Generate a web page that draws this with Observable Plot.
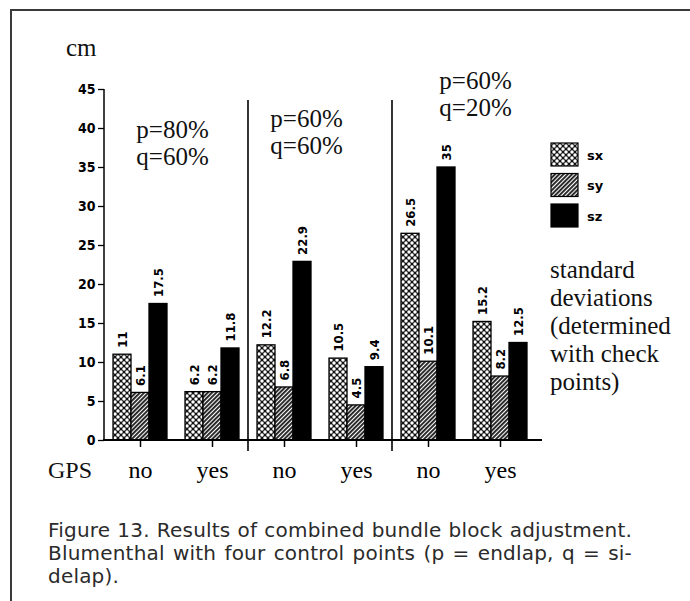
<!DOCTYPE html>
<html>
<head>
<meta charset="utf-8">
<script src="https://cdn.jsdelivr.net/npm/d3@7"></script>
<script src="https://cdn.jsdelivr.net/npm/@observablehq/plot@0.6"></script>
<style>
  html, body { margin: 0; padding: 0; background: #fff; overflow: hidden; }
  #page { position: relative; width: 690px; height: 601px; overflow: hidden; background: #fff; }
  #border { position: absolute; left: 10px; top: 9px; width: 720px; height: 640px;
            border-top: 2px solid #3a3a3a; border-left: 2px solid #3a3a3a; }
  #chart { position: absolute; left: 0; top: 0; }
  #caption { position: absolute; left: 48px; top: 519px; width: 584px;
             font-family: "DejaVu Sans", Verdana, sans-serif; font-size: 20px;
             letter-spacing: 0.2px; line-height: 23px; color: #2b2b2b; }
  #caption .j { text-align: justify; text-align-last: justify; }
</style>
</head>
<body>
<div id="page">
  <div id="border"></div>
  <div id="chart"></div>
  <div id="caption">
    <div class="j">Figure 13. Results of combined bundle block adjustment.</div>
    <div class="j">Blumenthal with four control points (p = endlap, q = si-</div>
    <div>delap).</div>
  </div>
</div>
<script>
// Six block configurations: GPS off / on, for three overlap settings
const groupKeys = ["g1", "g2", "g3", "g4", "g5", "g6"];
const gpsLabels = ["no", "yes", "no", "yes", "no", "yes"];
const overlapLabels = ["p=80%\nq=60%", "p=60%\nq=60%", "p=60%\nq=20%"];
const seriesNames = ["sx", "sy", "sz"];

// Standard deviations in cm
const sxValues = [11, 6.2, 12.2, 10.5, 26.5, 15.2];
const syValues = [6.1, 6.2, 6.8, 4.5, 10.1, 8.2];
const szValues = [17.5, 11.8, 22.9, 9.4, 35, 12.5];

const yTickValues = [0, 5, 10, 15, 20, 25, 30, 35, 40, 45];
const noteLines = ["standard", "deviations", "(determined", "with check", "points)"];

const seriesValues = [sxValues, syValues, szValues];
const rows = groupKeys.flatMap((g, i) =>
  seriesNames.map((s, j) => ({ group: g, series: s, value: seriesValues[j][i] }))
);
const annotations = overlapLabels.map((t, k) => ({ group: groupKeys[2 * k], text: t }));

// Placement of the overlap notes inside their facet
const notePlacement = [
  { dx: 68, dy: 29 },
  { dx: 58, dy: 18 },
  { dx: 83, dy: -20 }
];

const serif = "Liberation Serif, Times New Roman, serif";

const chart = Plot.plot({
  width: 690,
  height: 490,
  marginLeft: 103,
  marginRight: 154,
  marginTop: 89,
  marginBottom: 50,
  style: { background: "transparent", overflow: "visible" },
  fx: { domain: groupKeys, padding: 0, label: null },
  x: { domain: seriesNames, paddingInner: 0, paddingOuter: 0.46, axis: null },
  y: { domain: [0, 45], axis: null },
  color: { domain: seriesNames, range: ["url(#pat-sx)", "url(#pat-sy)", "#000"] },
  marks: [
    Plot.barY(rows, {
      fx: "group", x: "series", y: "value", fill: "series",
      stroke: "#000", strokeWidth: 1.3
    }),
    Plot.text(rows, {
      fx: "group", x: "series", y: "value", text: d => String(d.value),
      rotate: -90, textAnchor: "start", lineAnchor: "middle", dy: -7,
      fontFamily: "DejaVu Sans Condensed, DejaVu Sans", fontWeight: "bold", fontSize: 13, fill: "#000"
    }),
    Plot.axisY({
      ticks: yTickValues, tickSize: 6, tickPadding: 3, tickFormat: d => String(d),
      fontFamily: "DejaVu Sans Condensed, DejaVu Sans", fontWeight: "bold", fontSize: 14,
      stroke: "#000", strokeWidth: 1.3, label: null
    }),
    Plot.axisFx({
      anchor: "bottom", tickSize: 7, tickPadding: 13,
      tickFormat: k => gpsLabels[groupKeys.indexOf(k)],
      fontFamily: serif, fontSize: 24, stroke: "#000", strokeWidth: 1.5, label: null
    }),
    ...annotations.map((a, k) => Plot.text([a], {
      fx: "group", text: "text", frameAnchor: "top-left",
      dx: notePlacement[k].dx, dy: notePlacement[k].dy,
      textAnchor: "middle", lineAnchor: "top", lineHeight: 1.08,
      fontFamily: serif, fontSize: 25, fill: "#111"
    }))
  ]
});

document.getElementById("chart").appendChild(chart);

// Fill patterns, axis lines, separators and legend
const svg = d3.select(chart);
const defs = svg.insert("defs", ":first-child");

const pSx = defs.append("pattern").attr("id", "pat-sx")
  .attr("patternUnits", "userSpaceOnUse").attr("width", 6).attr("height", 6);
pSx.append("rect").attr("width", 6).attr("height", 6).attr("fill", "#111");
[[0, 0], [6, 0], [0, 6], [6, 6], [3, 3]].forEach(([cx, cy]) =>
  pSx.append("circle").attr("cx", cx).attr("cy", cy).attr("r", 1.75).attr("fill", "#fff"));

const pSy = defs.append("pattern").attr("id", "pat-sy")
  .attr("patternUnits", "userSpaceOnUse").attr("width", 3).attr("height", 3)
  .attr("patternTransform", "rotate(45)");
pSy.append("rect").attr("width", 3).attr("height", 3).attr("fill", "#fff");
pSy.append("rect").attr("width", 1.9).attr("height", 3).attr("fill", "#222");

const fx = chart.scale("fx");
const y = chart.scale("y");
const xLeft = fx.apply(groupKeys[0]);
const xRight = fx.range[1];
const y0 = y.apply(0);

const lines = svg.append("g").attr("stroke", "#000").attr("fill", "none");
// y axis line
lines.append("line").attr("x1", xLeft).attr("x2", xLeft)
  .attr("y1", y.apply(45)).attr("y2", y0).attr("stroke-width", 1.5);
// baseline
lines.append("line").attr("x1", xLeft - 1).attr("x2", xRight + 6)
  .attr("y1", y0).attr("y2", y0).attr("stroke-width", 2);
// separators between overlap settings
[groupKeys[2], groupKeys[4]].forEach(k => {
  const xs = fx.apply(k);
  lines.append("line").attr("x1", xs).attr("x2", xs)
    .attr("y1", y.apply(43.6)).attr("y2", y0 + 11).attr("stroke-width", 1.6);
});

// unit and row labels
const labels = svg.append("g").attr("text-anchor", "start")
  .attr("font-family", serif).attr("fill", "#111");
labels.append("text").attr("x", 66).attr("y", 56).attr("font-size", 25).text("cm");
labels.append("text").attr("x", 48).attr("y", 478).attr("font-size", 24).text("GPS");

// legend
const color = chart.scale("color");
const legend = svg.append("g").attr("transform", "translate(551,143)").attr("text-anchor", "start");
seriesNames.forEach((s, i) => {
  legend.append("rect").attr("x", 0).attr("y", i * 30.5).attr("width", 27).attr("height", 23)
    .attr("fill", color.apply(s)).attr("stroke", "#000").attr("stroke-width", 1.2);
  legend.append("text").attr("x", 36).attr("y", i * 30.5 + 12).attr("dy", "0.35em")
    .attr("font-family", "DejaVu Sans").attr("font-weight", "bold").attr("font-size", 13)
    .attr("fill", "#000").text(s);
});
const note = svg.append("g").attr("text-anchor", "start")
  .attr("font-family", serif).attr("font-size", 25).attr("fill", "#111");
noteLines.forEach((t, i) =>
  note.append("text").attr("x", 550).attr("y", 278 + i * 28).text(t));
</script>
</body>
</html>
